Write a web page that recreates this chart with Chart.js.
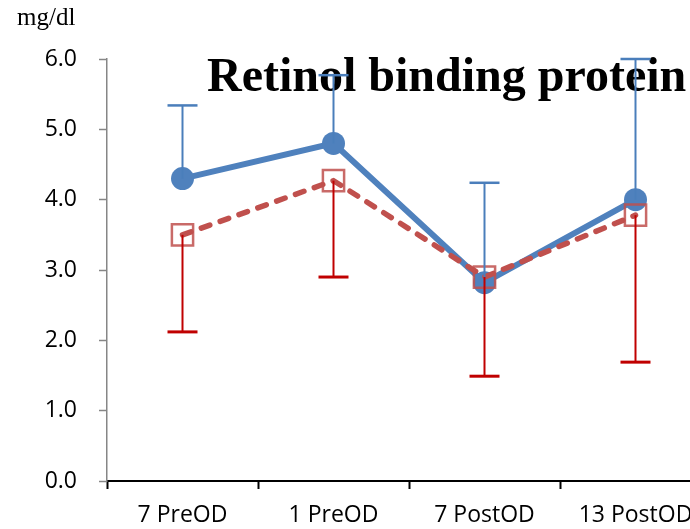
<!DOCTYPE html>
<html>
<head>
<meta charset="utf-8">
<script src="https://cdn.jsdelivr.net/npm/chart.js@4/dist/chart.umd.min.js"></script>
<style>
  html, body { margin: 0; padding: 0; background: #fff; overflow: hidden; }
  #wrap { position: relative; width: 690px; height: 529px; overflow: hidden; }
  #c { display: block; width: 720px; height: 529px; }
</style>
</head>
<body>
<div id="wrap"><canvas id="c" width="720" height="529"></canvas></div>
<script>
// Retinol binding protein (mg/dl) by day relative to OD
const categories = ['7 PreOD', '1 PreOD', '7 PostOD', '13 PostOD'];
const groupA = [4.3, 4.8, 2.82, 4.0];        // solid blue, circles
const groupAUpper = [5.34, 5.77, 4.24, 6.0]; // upper error bar ends
const groupB = [3.5, 4.27, 2.9, 3.78];       // dashed red, squares
const groupBLower = [2.12, 2.9, 1.49, 1.69]; // lower error bar ends
const yTicks = [0, 1, 2, 3, 4, 5, 6];

const BLUE = '#4f81bd';
const RED = '#c0504d';

const titlePlugin = {
  id: 'titleText',
  beforeDatasetsDraw(chart) {
    const ctx = chart.ctx;
    ctx.save();
    ctx.fillStyle = '#000';
    ctx.textAlign = 'left';
    ctx.textBaseline = 'alphabetic';
    ctx.font = 'bold 48px "Liberation Serif", "Times New Roman", serif';
    ctx.fillText('Retinol binding protein', 207, 91);
    ctx.font = '25px "Liberation Serif", "Times New Roman", serif';
    ctx.fillText('mg/dl', 17, 25);
    ctx.restore();
  }
};

const errorBarPlugin = {
  id: 'errorBars',
  afterDatasetsDraw(chart) {
    const ctx = chart.ctx;
    const x = chart.scales.x, y = chart.scales.y;
    const half = 15;
    ctx.save();
    ctx.lineCap = 'butt';
    categories.forEach((c, i) => {
      const px = x.getPixelForValue(i);
      // blue: upward
      let y0 = y.getPixelForValue(groupA[i]);
      let y1 = y.getPixelForValue(groupAUpper[i]);
      ctx.strokeStyle = '#4a7ebb';
      ctx.lineWidth = 2;
      ctx.beginPath(); ctx.moveTo(px, y0); ctx.lineTo(px, y1); ctx.stroke();
      ctx.lineWidth = 2.5;
      ctx.beginPath(); ctx.moveTo(px - half, y1); ctx.lineTo(px + half, y1); ctx.stroke();
      // red: downward
      y0 = y.getPixelForValue(groupB[i]);
      y1 = y.getPixelForValue(groupBLower[i]);
      ctx.strokeStyle = '#c00000';
      ctx.lineWidth = 2;
      ctx.beginPath(); ctx.moveTo(px, y0); ctx.lineTo(px, y1); ctx.stroke();
      ctx.lineWidth = 3;
      ctx.beginPath(); ctx.moveTo(px - half, y1); ctx.lineTo(px + half, y1); ctx.stroke();
    });
    ctx.restore();
  }
};

new Chart(document.getElementById('c'), {
  type: 'line',
  data: {
    labels: categories,
    datasets: [
      {
        data: groupB,
        borderColor: RED,
        borderWidth: 5.5,
        borderDash: [9, 11],
        borderCapStyle: 'round',
        pointStyle: 'rect',
        pointRadius: 15,
        pointBorderWidth: 2.5,
        pointBorderColor: 'rgba(192,80,77,0.85)',
        pointBackgroundColor: 'rgba(0,0,0,0)',
        tension: 0
      },
      {
        data: groupA,
        borderColor: BLUE,
        borderWidth: 6,
        pointStyle: 'circle',
        pointRadius: 11.5,
        pointBorderWidth: 0,
        pointBackgroundColor: BLUE,
        pointBorderColor: BLUE,
        tension: 0
      }
    ]
  },
  options: {
    responsive: false,
    animation: false,
    events: [],
    clip: false,
    layout: { autoPadding: false, padding: { left: 0, top: 59, right: 9, bottom: 0 } },
    plugins: { legend: { display: false }, tooltip: { enabled: false } },
    scales: {
      x: {
        offset: true,
        grid: {
          offset: true,
          drawOnChartArea: false,
          drawTicks: true,
          tickLength: 8,
          tickWidth: 2,
          tickColor: '#000'
        },
        border: { color: '#000', width: 2 },
        ticks: {
          color: '#000',
          padding: 13,
          maxRotation: 0,
          autoSkip: false,
          font: { family: '"Open Sans", sans-serif', size: 23 }
        },
        afterFit(s) { s.height = 48; s.paddingLeft = 0; s.paddingRight = 0; }
      },
      y: {
        min: 0,
        max: 6,
        afterBuildTicks(s) { s.ticks = yTicks.map(v => ({ value: v })); },
        grid: {
          drawOnChartArea: false,
          drawTicks: true,
          tickLength: 8,
          tickColor: '#868686',
          tickWidth: 1.5
        },
        border: { color: '#868686', width: 1.5 },
        ticks: {
          color: '#000',
          padding: 22,
          font: { family: '"Open Sans", sans-serif', size: 23 },
          callback: v => Number(v).toFixed(1)
        },
        afterFit(s) { s.width = 107; s.paddingTop = 0; s.paddingBottom = 0; }
      }
    }
  },
  plugins: [titlePlugin, errorBarPlugin]
});
</script>
</body>
</html>
